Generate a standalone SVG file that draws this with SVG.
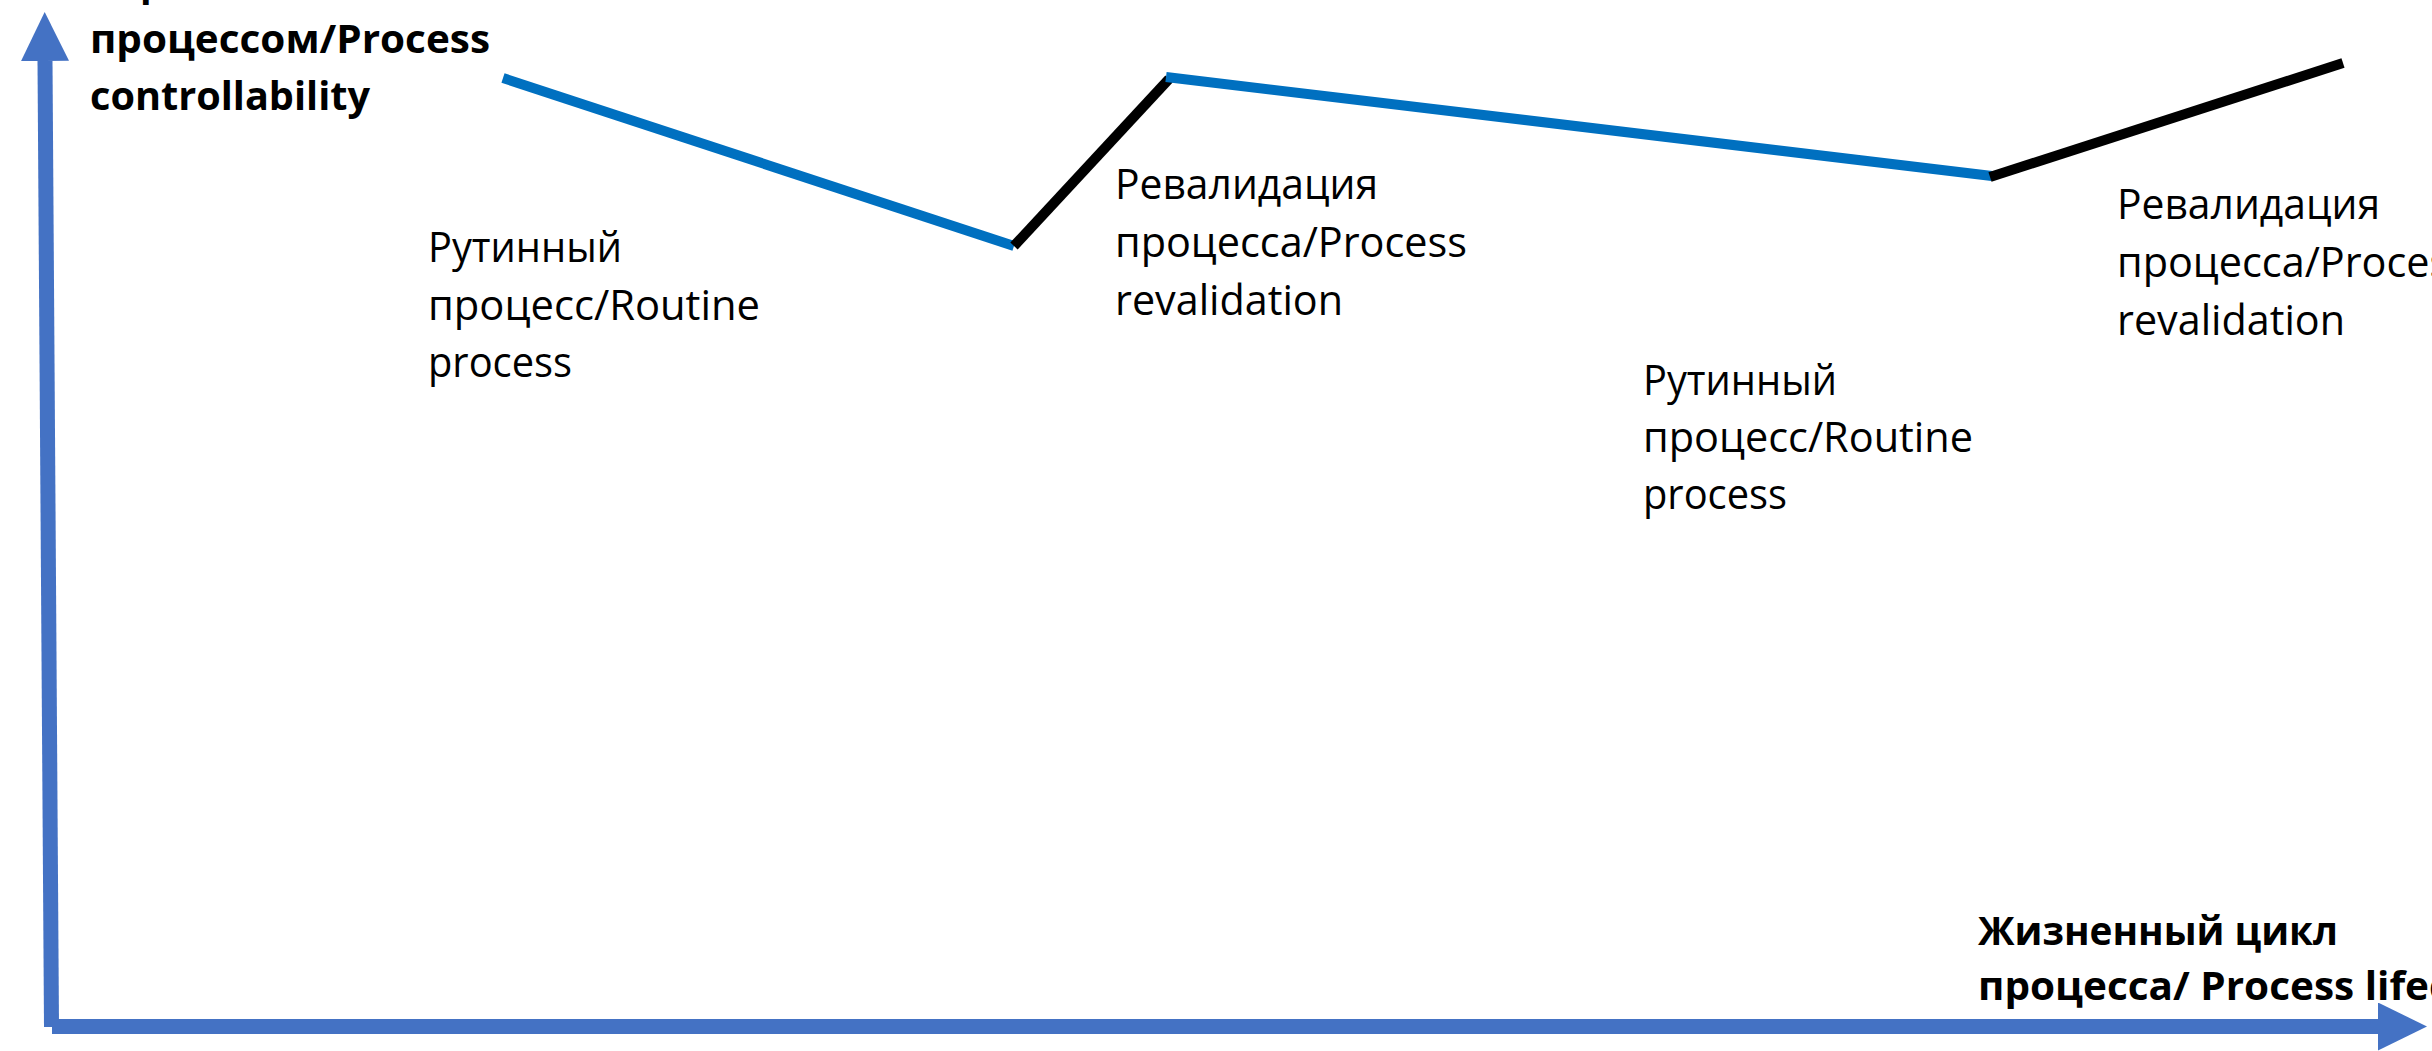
<svg xmlns="http://www.w3.org/2000/svg" width="2432" height="1051" viewBox="0 0 2432 1051">
  <style>
    .lbl { font-family: "Open Sans", "Noto Sans", "DejaVu Sans", sans-serif; font-size: 42px; fill: #000; }
    .axis-lbl { font-family: "Open Sans", "Noto Sans", "DejaVu Sans", sans-serif; font-size: 39px; font-weight: bold; fill: #000; }
    .axis { stroke: #4472C4; stroke-width: 15; fill: none; marker-end: url(#axisHead); }
    .routine { stroke: #0070C0; stroke-width: 10; fill: none; }
    .reval { stroke: #000; stroke-width: 10; fill: none; }
  </style>
  <defs>
    <marker id="axisHead" markerUnits="userSpaceOnUse" markerWidth="49" markerHeight="48" viewBox="0 0 49 48" refX="0" refY="24" orient="auto">
      <path d="M0,0 L49,24 L0,48 Z" fill="#4472C4"/>
    </marker>
  </defs>
  <rect width="2432" height="1051" fill="#fff"/>

  <!-- coordinate axes -->
  <g id="axes">
    <line class="axis" x1="51.5" y1="1027" x2="45" y2="61"/>
    <line class="axis" x1="52" y1="1026.5" x2="2378" y2="1026.5"/>
  </g>

  <!-- axis captions -->
  <g id="y-axis-label">
    <text class="axis-lbl" x="90" y="-4" textLength="310" lengthAdjust="spacingAndGlyphs">Управляемость</text>
    <text class="axis-lbl" x="90" y="53" textLength="400" lengthAdjust="spacingAndGlyphs">процессом/Process</text>
    <text class="axis-lbl" x="90" y="110" textLength="280" lengthAdjust="spacingAndGlyphs">controllability</text>
  </g>
  <g id="x-axis-label">
    <text class="axis-lbl" x="1978" y="945" textLength="360" lengthAdjust="spacingAndGlyphs">Жизненный цикл</text>
    <text class="axis-lbl" x="1978" y="1000" textLength="552" lengthAdjust="spacingAndGlyphs">процесса/ Process lifecycle</text>
  </g>

  <!-- process trajectory: routine phases (blue) and revalidation steps (black) -->
  <g id="connectors">
    <line class="routine" x1="503" y1="78" x2="1014" y2="246"/>
    <line class="reval" x1="1014" y1="246" x2="1169" y2="79"/>
    <line class="routine" x1="1166" y1="77" x2="1992" y2="176"/>
    <line class="reval" x1="1990" y1="177" x2="2343" y2="63"/>
  </g>

  <!-- phase labels -->
  <g id="routine-1">
    <text class="lbl" x="428" y="262" textLength="194" lengthAdjust="spacingAndGlyphs">Рутинный</text>
    <text class="lbl" x="428" y="320" textLength="332" lengthAdjust="spacingAndGlyphs">процесс/Routine</text>
    <text class="lbl" x="428" y="377" textLength="144" lengthAdjust="spacingAndGlyphs">process</text>
  </g>
  <g id="revalidation-1">
    <text class="lbl" x="1115" y="199" textLength="263" lengthAdjust="spacingAndGlyphs">Ревалидация</text>
    <text class="lbl" x="1115" y="257" textLength="352" lengthAdjust="spacingAndGlyphs">процесса/Process</text>
    <text class="lbl" x="1115" y="315" textLength="228" lengthAdjust="spacingAndGlyphs">revalidation</text>
  </g>
  <g id="routine-2">
    <text class="lbl" x="1643" y="395" textLength="194" lengthAdjust="spacingAndGlyphs">Рутинный</text>
    <text class="lbl" x="1643" y="452" textLength="330" lengthAdjust="spacingAndGlyphs">процесс/Routine</text>
    <text class="lbl" x="1643" y="509" textLength="144" lengthAdjust="spacingAndGlyphs">process</text>
  </g>
  <g id="revalidation-2">
    <text class="lbl" x="2117" y="219" textLength="263" lengthAdjust="spacingAndGlyphs">Ревалидация</text>
    <text class="lbl" x="2117" y="277" textLength="352" lengthAdjust="spacingAndGlyphs">процесса/Process</text>
    <text class="lbl" x="2117" y="335" textLength="228" lengthAdjust="spacingAndGlyphs">revalidation</text>
  </g>
</svg>
